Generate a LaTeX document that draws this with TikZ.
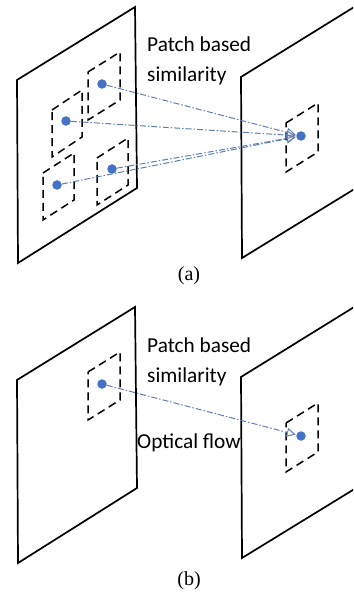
\documentclass[tikz,border=0pt]{standalone}
\usepackage{fontspec}
\setmainfont{Liberation Serif}
\newfontfamily\labelfont{Carlito}
\usetikzlibrary{arrows.meta,positioning}
\definecolor{dotblue}{RGB}{68,114,196}
\definecolor{flowblue}{RGB}{95,125,180}

\begin{document}
\begin{tikzpicture}[x=1pt, y=-1pt,
    plane/.style={draw, line width=1.7pt, line join=miter},
    patch/.style={draw, line width=1.5pt, dash pattern=on 8pt off 5pt},
    dot/.style={circle, fill=dotblue, inner sep=0pt, minimum size=9.5pt},
    flow/.style={draw=flowblue, line width=1pt, dash pattern=on 6pt off 2pt on 1.5pt off 2pt,
        -{Triangle[open, length=9pt, width=9pt]}, shorten >=0.5pt},
    lbl/.style={anchor=base west, inner sep=0pt, font=\labelfont\fontsize{21.3}{25}\selectfont},
    subcap/.style={inner sep=0pt, font=\fontsize{20}{22}\selectfont}
]
    \useasboundingbox (0,0) rectangle (353,593);
    \clip (0,0) rectangle (353,593);

    % (a) several patches against one
    \draw[plane] (17,80) -- (135,7) -- (137,188) -- (18,263) -- cycle;
    \draw[plane] (241,77) -- (359,4) -- (361,185) -- (242,258) -- cycle;

    \draw[patch] (88,72) -- ++(32,-20) -- ++(0,48) -- ++(-32,20) -- cycle;
    \draw[patch] (52,110) -- ++(30,-20) -- ++(0,47) -- ++(-30,20) -- cycle;
    \draw[patch] (43,173) -- ++(31,-20) -- ++(0,47) -- ++(-31,20) -- cycle;
    \draw[patch] (97,158) -- ++(31,-20) -- ++(0,47) -- ++(-31,20) -- cycle;
    \draw[patch] (286,123) -- ++(32,-20) -- ++(0,49) -- ++(-32,20) -- cycle;

    \node[dot] (a1) at (102,84) {};
    \node[dot] (a2) at (66,121) {};
    \node[dot] (a3) at (57,185) {};
    \node[dot] (a4) at (112,169) {};
    \node[dot] (at) at (301,136) {};

    \draw[flow] (a1) -- (at);
    \draw[flow] (a2) -- (at);
    \draw[flow] (a3) -- (at);
    \draw[flow] (a4) -- (at);

    \node[lbl] (simA) at (147,52) {Patch based};
    \node[lbl] (simA2) at (147,82) {similarity};
    \node[subcap] (capA) at (189,276) {(a)};

    % (b) one patch, followed by optical flow
    \begin{scope}[yshift=-300pt]
        \draw[plane] (17,80) -- (135,7) -- (137,188) -- (18,263) -- cycle;
        \draw[plane] (241,77) -- (359,4) -- (361,185) -- (242,258) -- cycle;

        \draw[patch] (88,72) -- ++(32,-20) -- ++(0,48) -- ++(-32,20) -- cycle;
        \draw[patch] (286,123) -- ++(32,-20) -- ++(0,49) -- ++(-32,20) -- cycle;

        \node[dot] (b1) at (102,84) {};
        \node[dot] (bt) at (301,136) {};

        \draw[flow] (b1) -- (bt);

        \node[lbl] (simB) at (147,52) {Patch based};
        \node[lbl] (simB2) at (147,82) {similarity};
        \node[lbl] (optB) at (137,148) {Optical flow};
        \node[subcap] (capB) at (189,281) {(b)};
    \end{scope}
\end{tikzpicture}
\end{document}
